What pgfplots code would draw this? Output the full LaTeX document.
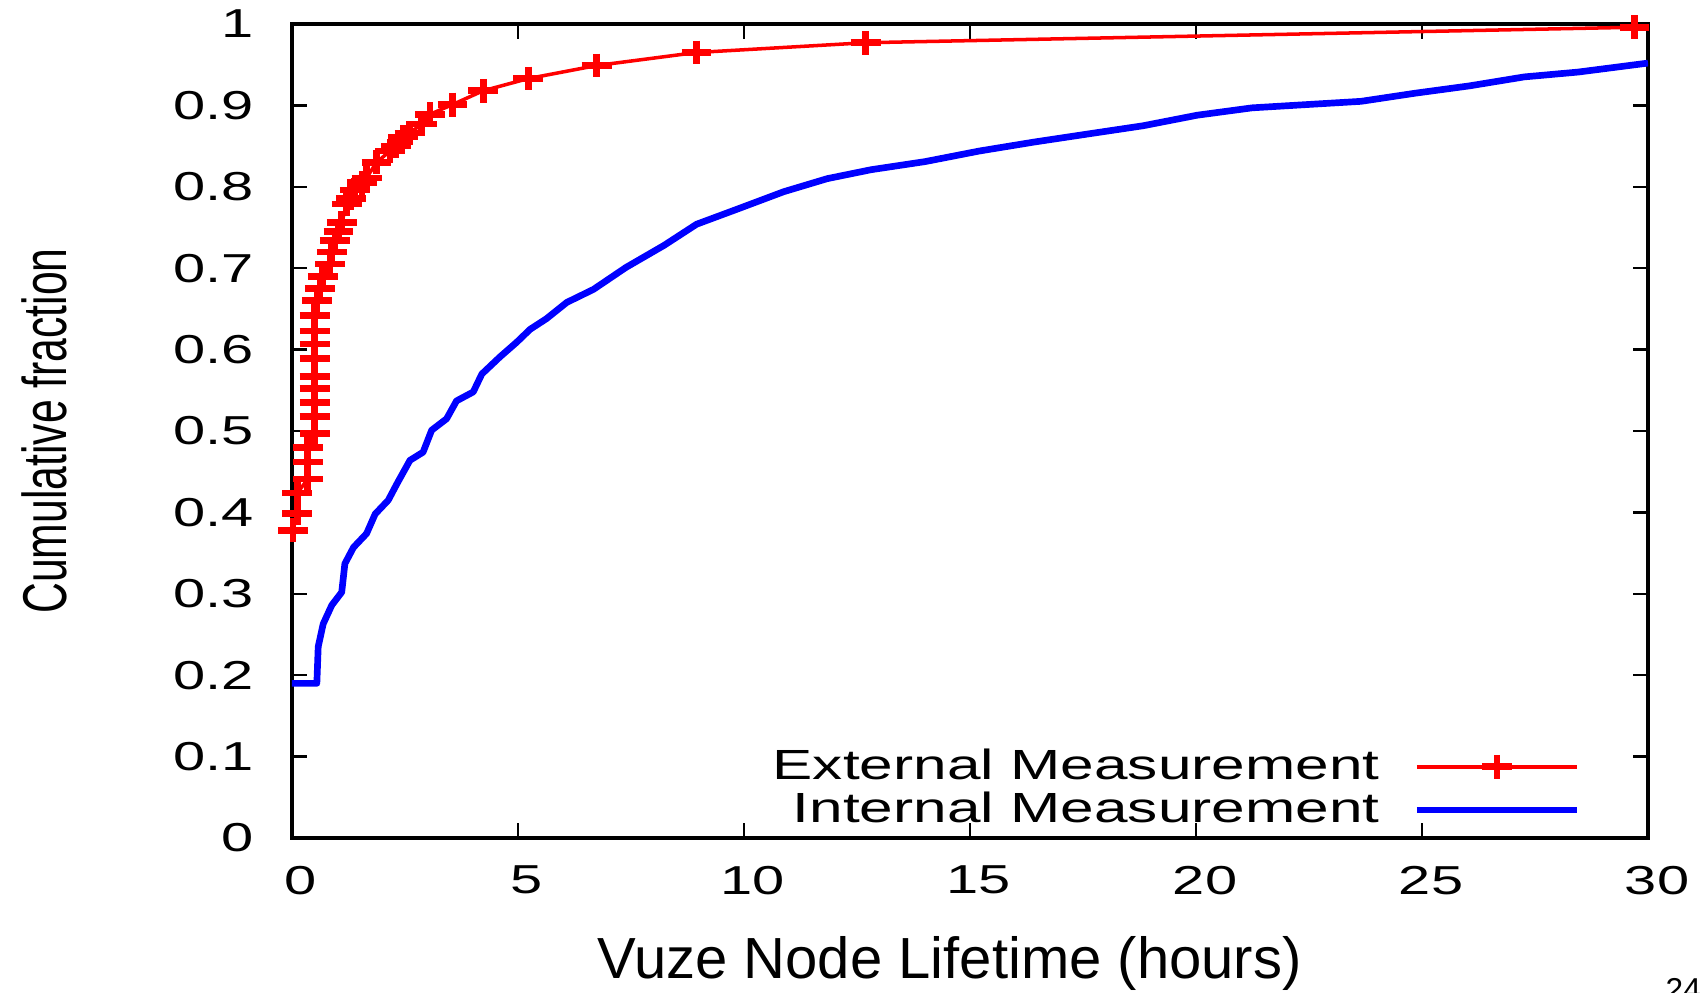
\documentclass[border=0pt]{standalone}
\usepackage{fontspec}
\setmainfont{Liberation Sans}
\newfontfamily\gpfont[FakeStretch=1.43]{Liberation Sans}
\newfontfamily\ylabfont[FakeStretch=0.69]{Liberation Sans}
\usepackage{pgfplots}
\pgfplotsset{compat=1.18}

\begin{document}
\begin{tikzpicture}
\begin{axis}[
    at={(0,0)}, anchor=south west,
    scale only axis,
    width=13.56cm, height=8.14cm,
    xmin=0, xmax=30, ymin=0, ymax=1,
    xtick={0,5,10,15,20,25,30},
    ytick={0,0.1,0.2,0.3,0.4,0.5,0.6,0.7,0.8,0.9,1},
    /pgf/number format/assume math mode=true,
    /pgf/number format/fixed, /pgf/number format/precision=1,
    tick align=inside, major tick length=1.5mm,
    axis line style={black, line width=0.9pt},
    tick style={black, line width=0.7pt},
    xticklabel style={font=\gpfont\fontsize{11.5}{13}\selectfont, yshift=-1.55mm, xshift=0.9mm},
    yticklabel style={font=\gpfont\fontsize{11.5}{13}\selectfont, xshift=-2.6mm},
    xlabel={Vuze Node Lifetime (hours)},
    ylabel={Cumulative fraction},
    xlabel style={font=\fontsize{16.5}{19}\selectfont, at={(axis description cs:0.485,-0.172)}, anchor=base},
    ylabel style={font=\ylabfont\fontsize{17.6}{20}\selectfont, at={(axis description cs:-0.166,0.5)}, anchor=base, rotate=0},
    legend cell align=right,
    legend plot pos=right,
    legend image code/.code={\draw[mark repeat=2,mark phase=2] plot coordinates {(0cm,0cm) (0.8cm,0cm) (1.6cm,0cm)};},
    legend style={draw=none, fill=none, at={(axis description cs:0.9505,0.1104)}, anchor=north east,
        inner sep=0pt, row sep=0.75mm, column sep=3.4mm,
        font=\gpfont\fontsize{12}{14}\selectfont, nodes={inner sep=0pt}},
]
% external measurement
\addplot[red, line width=1pt, mark=+, mark size=3.4pt,
    mark options={solid, line width=1.9pt, xscale=1.25}] coordinates {
    (0.02,0.378) (0.12,0.399) (0.12,0.424) (0.35,0.441) (0.35,0.462) (0.35,0.480)
    (0.50,0.497) (0.50,0.518) (0.50,0.535) (0.50,0.552) (0.50,0.567) (0.50,0.589)
    (0.50,0.607) (0.50,0.623) (0.50,0.642) (0.55,0.660) (0.62,0.675) (0.68,0.690)
    (0.84,0.705) (0.88,0.720) (0.95,0.734) (1.03,0.745) (1.10,0.756) (1.21,0.779)
    (1.30,0.786) (1.39,0.796) (1.55,0.805) (1.65,0.811) (1.87,0.830) (2.17,0.844)
    (2.30,0.850) (2.46,0.861) (2.60,0.866) (2.87,0.877) (3.05,0.889) (3.55,0.901)
    (4.23,0.918) (5.23,0.933) (6.74,0.949) (8.95,0.965) (12.69,0.977) (29.70,0.996)
    (31.00,0.997)
};
\addlegendentry{External Measurement}
% internal measurement
\addplot[blue, line width=1.9pt, line join=round] coordinates {
    (0,0.190) (0.55,0.190) (0.58,0.235) (0.69,0.263) (0.88,0.286) (1.10,0.302)
    (1.17,0.337) (1.36,0.357) (1.65,0.374) (1.84,0.398) (2.13,0.415) (2.32,0.435)
    (2.61,0.464) (2.90,0.474) (3.09,0.501) (3.42,0.515) (3.64,0.537) (4.01,0.548)
    (4.20,0.570) (4.60,0.591) (4.97,0.609) (5.27,0.625) (5.63,0.638) (6.08,0.658)
    (6.67,0.674) (7.39,0.701) (8.23,0.728) (8.95,0.754) (9.92,0.774) (10.88,0.794)
    (11.84,0.810) (12.81,0.821) (14.01,0.831) (15.21,0.844) (16.42,0.855)
    (17.62,0.865) (18.83,0.875) (20.03,0.888) (21.24,0.897) (22.44,0.901)
    (23.65,0.905) (24.85,0.915) (26.05,0.924) (27.26,0.935) (28.46,0.941) (30,0.952)
};
\addlegendentry{Internal Measurement}
\end{axis}
\node[anchor=north west, inner sep=0pt, font=\fontsize{9}{11}\selectfont] at (13.73,-1.40) {24};
\pgfresetboundingbox
\useasboundingbox (-2.92,-1.54) rectangle (14.15,8.38);
\end{tikzpicture}
\end{document}
